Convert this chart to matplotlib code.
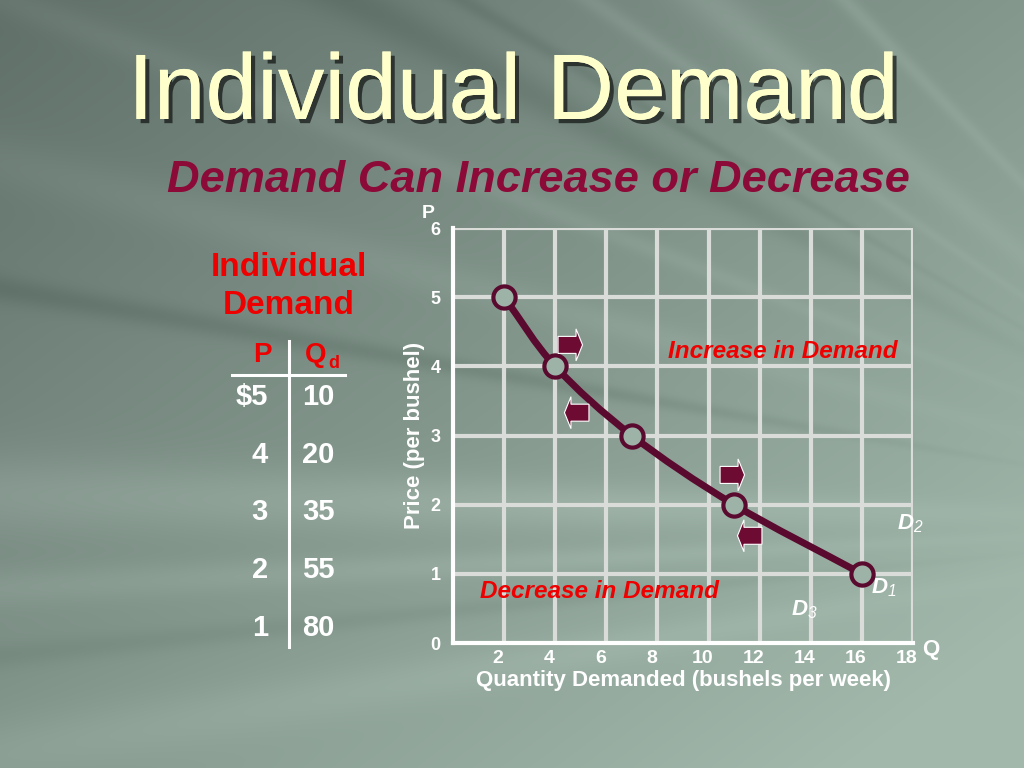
import numpy as np
import matplotlib
matplotlib.use("Agg")
import matplotlib.pyplot as plt
from matplotlib.path import Path
from matplotlib.patches import PathPatch, Polygon
from matplotlib.transforms import ScaledTranslation
import matplotlib.patheffects as pe

# ---------------- data ----------------
prices = [5, 4, 3, 2, 1]
qty_table = [10, 20, 35, 55, 80]
price_labels = ["$5", "4", "3", "2", "1"]
qty_chart = [2, 4, 7, 11, 16]          # chart units (bushels/5)
x_ticks = [2, 4, 6, 8, 10, 12, 14, 16, 18]
y_ticks = [0, 1, 2, 3, 4, 5, 6]
arrow_x = [4.58, 4.85, 10.92, 11.62]
arrow_y = [4.31, 3.33, 2.43, 1.55]
arrow_dir = [1, -1, 1, -1]
curve_labels = ["D$_2$", "D$_1$", "D$_3$"]

W, H = 1024, 768
plt.rcParams['font.family'] = ['Liberation Sans', 'DejaVu Sans']
plt.rcParams['mathtext.fontset'] = 'custom'
plt.rcParams['mathtext.rm'] = 'Liberation Sans:italic'
plt.rcParams['mathtext.it'] = 'Liberation Sans:italic'
plt.rcParams['mathtext.default'] = 'rm'
fig = plt.figure(figsize=(W / 100, H / 100), dpi=100)

def fx(x):
    return x / W

def fy(y):
    return 1 - y / H

# ---------------- background ----------------
bg = fig.add_axes([0, 0, 1, 1], zorder=-10)
yy, xx = np.mgrid[0:H, 0:W].astype(float)
t = np.clip(0.55 * xx / W + 0.55 * yy / H, 0, 1)
dark = np.array([0x60, 0x70, 0x69]) / 255
light = np.array([0xa2, 0xb8, 0xab]) / 255
img = dark[None, None, :] + (light - dark)[None, None, :] * t[..., None]
fx0, fy0 = 1350, 520
ang = np.arctan2(yy - fy0, fx0 - xx)
dist = np.hypot(xx - fx0, yy - fy0)
fade = np.clip((dist - 250) / 500, 0, 1)
streaks = [(-0.02, 0.03, 0.06), (0.05, 0.015, 0.04), (-0.17, 0.010, -0.05),
           (-0.26, 0.02, 0.03), (-0.48, 0.02, -0.05), (-0.53, 0.008, -0.04),
           (-0.68, 0.025, 0.05), (-0.80, 0.012, 0.05), (0.17, 0.025, 0.035),
           (0.10, 0.01, -0.03), (-0.37, 0.012, 0.03), (-0.60, 0.01, 0.04)]
mod = np.zeros_like(t)
for c, w, a in streaks:
    mod += a * np.exp(-((ang - c) / w) ** 2)
img = np.clip(img + (mod * fade)[..., None], 0, 1)
bg.imshow(img, extent=[0, 1, 0, 1], aspect='auto', interpolation='bilinear')
bg.axis('off')

# ---------------- titles ----------------
shadow = [pe.withSimplePatchShadow(offset=(3, -3), shadow_rgbFace='black', alpha=0.6), pe.Normal()]
fig.text(fx(513), fy(95), "Individual Demand", fontsize=67, color='#ffffcc',
         ha='center', va='center', path_effects=shadow)
fig.text(fx(538), fy(181), "Demand Can Increase or Decrease", fontsize=32.5,
         color='#8c0a38', fontweight='bold', fontstyle='italic', ha='center', va='center')

# ---------------- table ----------------
red = '#ee0000'
fig.text(fx(289), fy(267), "Individual", fontsize=24, color=red, fontweight='bold',
         ha='center', va='center')
fig.text(fx(289), fy(305), "Demand", fontsize=24, color=red, fontweight='bold',
         ha='center', va='center')
fig.text(fx(262), fy(355), "P", fontsize=20, color=red, fontweight='bold',
         ha='center', va='center')
fig.text(fx(305), fy(355), "Q", fontsize=20, color=red, fontweight='bold',
         ha='left', va='center')
fig.text(fx(328), fy(363), "d", fontsize=13, color=red, fontweight='bold',
         ha='left', va='center')
fig.add_artist(plt.Line2D([fx(232), fx(345)], [fy(375), fy(375)], color='white', lw=2.2))
fig.add_artist(plt.Line2D([fx(289), fx(289)], [fy(341), fy(647)], color='white', lw=2.2))
row_y = [397, 455, 512, 570, 628]
for lab, q, ry in zip(price_labels, qty_table, row_y):
    fig.text(fx(268), fy(ry), lab, fontsize=21, color='white', fontweight='bold',
             ha='right', va='center')
    fig.text(fx(302), fy(ry), str(q), fontsize=21, color='white', fontweight='bold',
             ha='left', va='center')

# ---------------- chart ----------------
ax = fig.add_axes([fx(453), fy(643), (913 - 453) / W, (643 - 228) / H])
ax.set_facecolor('none')
ax.set_xlim(0, 18)
ax.set_ylim(0, 6)
grid_c = '#d9dcd9'
for gx in x_ticks:
    ax.axvline(gx, color=grid_c, lw=3, zorder=1)
for gy in y_ticks[1:]:
    ax.axhline(gy, color=grid_c, lw=3, zorder=1)
for s in ['top', 'right']:
    ax.spines[s].set_visible(False)
for s in ['left', 'bottom']:
    ax.spines[s].set_color('white')
    ax.spines[s].set_linewidth(3)
    ax.spines[s].set_zorder(2)
ax.set_xticks(x_ticks)
ax.set_yticks(y_ticks)
ax.tick_params(axis='x', length=0, colors='white', labelsize=14, pad=5)
ax.tick_params(axis='y', length=0, colors='white', labelsize=13, pad=9)
shift = ScaledTranslation(-0.06, 0, fig.dpi_scale_trans)
for lab in ax.get_xticklabels():
    lab.set_fontweight('bold')
    lab.set_transform(lab.get_transform() + shift)
for lab in ax.get_yticklabels():
    lab.set_fontweight('bold')
ax.set_xlabel("Quantity Demanded (bushels per week)", fontsize=16, fontweight='bold',
              color='white', labelpad=2)
ax.set_ylabel("Price (per bushel)", fontsize=16, fontweight='bold', color='white',
              labelpad=4)

# smooth demand curve (Catmull-Rom -> Bezier) through the data points
pts = np.column_stack([qty_chart, prices]).astype(float)
ext = np.vstack([2 * pts[0] - pts[1], pts, 2 * pts[-1] - pts[-2]])
verts = [tuple(pts[0])]
codes = [Path.MOVETO]
for i in range(1, len(ext) - 2):
    p0, p1, p2, p3 = ext[i - 1], ext[i], ext[i + 1], ext[i + 2]
    c1 = p1 + (p2 - p0) / 6
    c2 = p2 - (p3 - p1) / 6
    verts += [tuple(c1), tuple(c2), tuple(p2)]
    codes += [Path.CURVE4] * 3
curve_c = '#5a0a2e'
ax.add_patch(PathPatch(Path(verts, codes), facecolor='none', edgecolor=curve_c,
                       lw=5, zorder=4, capstyle='round'))
ax.plot(qty_chart, prices, linestyle='none', marker='o', markersize=16,
        markerfacecolor='#9db3a7', markeredgecolor=curve_c, markeredgewidth=3, zorder=5,
        clip_on=False)

# shift arrows
for axx, ayy, d in zip(arrow_x, arrow_y, arrow_dir):
    tr = fig.dpi_scale_trans + ScaledTranslation(axx, ayy, ax.transData)
    shape = np.array([[-0.12, -0.085], [0.06, -0.085], [0.06, -0.16], [0.125, 0.0],
                      [0.06, 0.16], [0.06, 0.085], [-0.12, 0.085]])
    shape[:, 0] *= d
    ax.add_patch(Polygon(shape, closed=True, transform=tr, facecolor='#6e0b33',
                         edgecolor='white', lw=0.8, zorder=6))

# annotation texts
fig.text(fx(783), fy(351), "Increase in Demand", fontsize=17.5, color=red,
         fontweight='bold', fontstyle='italic', ha='center', va='center')
fig.text(fx(600), fy(591), "Decrease in Demand", fontsize=17.5, color=red,
         fontweight='bold', fontstyle='italic', ha='center', va='center')
for (lx, ly), lab in zip([(910, 524), (884, 588), (804, 610)], curve_labels):
    fig.text(fx(lx), fy(ly), lab, fontsize=16, color='white', fontweight='bold',
             fontstyle='italic', ha='center', va='center')
fig.text(fx(428), fy(213), "P", fontsize=14, color='white', fontweight='bold',
         ha='center', va='center')
fig.text(fx(931), fy(650), "Q", fontsize=16, color='white', fontweight='bold',
         ha='center', va='center')

fig.savefig("out.png", dpi=100)
